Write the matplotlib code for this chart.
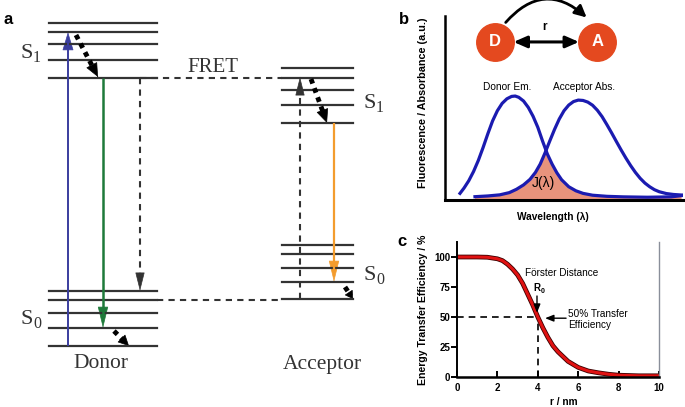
import numpy as np
import matplotlib
matplotlib.use('Agg')
import matplotlib.pyplot as plt
from matplotlib.patches import FancyArrowPatch

# --- panel a: Jablonski levels (rows in the schematic, top = 0) ---
donor_s1 = [23, 32, 44, 60, 78]
donor_s0 = [291, 300, 313, 328, 346]
acceptor_s1 = [68, 78, 90, 105, 123]
acceptor_s0 = [245, 254, 268, 282, 299]
donor_span = (49, 157)
acceptor_span = (282, 353)

# --- panel b: spectra (wavelength, intensity, a.u.) ---
donor_x = [6.3, 8, 10, 12, 14, 16, 18, 20, 22, 24, 26, 28, 29.5, 31, 33,
           35, 37, 39, 41, 43, 45, 47, 49, 52, 55, 58, 62, 68, 75, 85, 95,
           99.4]
donor_y = [3.6, 6.5, 10.5, 15.5, 21.5, 28.5, 36, 43, 48.5, 52.5, 55, 56.3,
           56.5, 55.8, 53.8, 50.3, 45.5, 39.5, 32, 25, 19.5, 14.8, 11, 7.2,
           5, 3.6, 2.6, 2, 1.7, 1.5, 1.7, 2.4]
acc_x = [12.6, 18, 23, 27, 30, 33, 35.7, 38, 40, 42, 44, 46, 48, 50, 52,
         54, 56, 58, 60, 62, 64, 66, 68, 70, 72, 74, 76, 78, 80, 82, 84, 86,
         88, 90, 93, 96, 99.4]
acc_y = [1.8, 2.2, 2.8, 4, 5.8, 8.2, 11.2, 15, 19.5, 25.5, 32, 38.3, 44,
         48.5, 51.6, 53.5, 54.3, 54.1, 53.2, 51.5, 48.8, 45.3, 41, 36.5,
         31.8, 27.2, 22.8, 18.7, 15, 11.8, 9.2, 7.2, 5.6, 4.5, 3.5, 3, 2.7]
cross_x, cross_y = 42.4, 27.0

# --- panel c: transfer efficiency vs distance ---
r_nm = [0, 0.5, 1, 1.5, 2, 2.25, 2.5, 2.75, 3, 3.25, 3.5, 3.75, 4, 4.25,
        4.5, 4.75, 5, 5.5, 6, 6.5, 7, 7.5, 8, 9, 10]
eff = [100, 100, 100, 99.8, 98.5, 97, 94, 90, 85, 78, 69, 60, 50, 41,
       33, 26, 21, 13, 8, 5, 3.5, 2.3, 1.5, 1, 1]
r0 = 4
xticks_c = [0, 2, 4, 6, 8, 10]
yticks_c = [0, 25, 50, 75, 100]

SANS = 'Liberation Sans'
SERIF = 'Liberation Serif'
GREY = '#333333'

fig = plt.figure(figsize=(6.85, 4.07), dpi=100)

# ---------------- panel a ----------------
ax = fig.add_axes([0, 0, 1, 1])
ax.set_xlim(0, 685)
ax.set_ylim(407, 0)
ax.axis('off')

for y in donor_s1 + donor_s0:
    ax.plot(donor_span, [y, y], color=GREY, lw=1.6)
for y in acceptor_s1 + acceptor_s0:
    ax.plot(acceptor_span, [y, y], color=GREY, lw=1.6)


def arrow(tail, tip, color, lw, ls='-', hl=10, hw=3.5):
    tail = np.array(tail, float)
    tip = np.array(tip, float)
    u = (tip - tail) / np.hypot(*(tip - tail))
    end = tip - u * hl * 100 / 72 * 0.6
    ax.plot([tail[0], end[0]], [tail[1], end[1]], color=color, lw=lw,
            linestyle=ls, solid_capstyle='butt', dash_capstyle='butt')
    ax.add_patch(FancyArrowPatch(tuple(tip - u * 0.5), tuple(tip),
                                 arrowstyle=f'-|>,head_length={hl},head_width={hw}',
                                 mutation_scale=1, color=color, lw=0.5,
                                 shrinkA=0, shrinkB=0))


dots = (0, (1, 1))
dash = (0, (3, 2.5))

# donor
arrow((68, donor_s0[-1]), (68, donor_s1[1]), '#3A3D9E', 1.4, hl=12, hw=3.6)
arrow((76, 35), (98, donor_s1[-1] - 1), 'black', 3.5, dots, hl=9, hw=4)
arrow((103, donor_s1[-1]), (103, donor_s0[3]), '#1E7A3A', 1.8, hl=14, hw=3.4)
arrow((140, donor_s1[-1]), (140, donor_s0[0]), GREY, 1.5, dash, hl=12, hw=3)
arrow((114, 331), (129, donor_s0[-1]), 'black', 3.5, dots, hl=7, hw=3.5)
ax.plot([140, acceptor_span[0]], [donor_s1[-1], donor_s1[-1]], color=GREY,
        lw=1.5, linestyle=dash)
ax.plot([donor_span[1], acceptor_span[0]], [donor_s0[1], donor_s0[1]],
        color=GREY, lw=1.5, linestyle=dash)

# acceptor
arrow((300, acceptor_s0[-1]), (300, acceptor_s1[1] - 1), GREY, 1.5, dash,
      hl=12, hw=3)
arrow((311, 79), (327, acceptor_s1[-1]), 'black', 3.5, dots, hl=9, hw=4)
arrow((334, acceptor_s1[-1]), (334, acceptor_s0[3]), '#F39C2E', 1.6,
      hl=14, hw=3.4)
arrow((345, 287), (353, acceptor_s0[-1]), 'black', 3.5, dots, hl=5, hw=3)


def level_label(x, y, sub):
    ax.text(x, y, 'S', family=SERIF, fontsize=16, color=GREY,
            ha='left', va='center')
    ax.text(x + 12, y + 4.5, sub, family=SERIF, fontsize=11.5, color=GREY,
            ha='left', va='center')


level_label(21, 53, '1')
level_label(21, 320, '0')
level_label(364, 103, '1')
level_label(364, 275, '0')
ax.text(213, 67, 'FRET', family=SERIF, fontsize=15, color=GREY,
        ha='center', va='center')
ax.text(101, 364, 'Donor', family=SERIF, fontsize=15.5, color=GREY,
        ha='center', va='center')
ax.text(322, 364, 'Acceptor', family=SERIF, fontsize=15.5, color=GREY,
        ha='center', va='center')

for lab, (x, y) in {'a': (8, 19), 'b': (404, 19), 'c': (402, 241)}.items():
    ax.text(x, y, lab, family=SANS, fontsize=12, fontweight='bold',
            ha='center', va='center')

# ---------------- panel b ----------------
axb = fig.add_axes([445 / 685, 1 - 200 / 407, 238 / 685, 184 / 407])
axb.set_xlim(0, 100)
axb.set_ylim(0, 100)
axb.patch.set_alpha(0)
for s in ['top', 'right']:
    axb.spines[s].set_visible(False)
axb.spines['left'].set_linewidth(1.8)
axb.spines['bottom'].set_linewidth(2.2)
axb.set_xticks([])
axb.set_yticks([])

left = [(x, y) for x, y in zip(acc_x, acc_y) if x < cross_x]
right = [(x, y) for x, y in zip(donor_x, donor_y) if x > cross_x]
poly = left + [(cross_x, cross_y)] + right
poly_x = [p[0] for p in poly]
poly_y = [p[1] for p in poly]
axb.fill(poly_x + [poly_x[-1], poly_x[0]], poly_y + [0, 0],
         color='#E8937C', lw=0)
axb.plot(donor_x, donor_y, color='#1B1BB0', lw=2.3, solid_joinstyle='round')
axb.plot(acc_x, acc_y, color='#1B1BB0', lw=2.3, solid_joinstyle='round')

axb.text(41.5, 9.5, 'J(λ)', family=SANS, fontsize=10, ha='center', va='center')
axb.text(26, 61.5, 'Donor Em.', family=SANS, fontsize=7.3, ha='center',
         va='center')
axb.text(58.5, 61.5, 'Acceptor Abs.', family=SANS, fontsize=7.3,
         ha='center', va='center')
axb.set_ylabel('Fluorescence / Absorbance (a.u.)', family=SANS, fontsize=7.8,
               fontweight='bold')
axb.yaxis.set_label_coords(-0.07, 0.53)
axb.set_xlabel('Wavelength (λ)', family=SANS, fontsize=7.3, fontweight='bold')
axb.xaxis.set_label_coords(0.455, -0.065)

circ_y = 85.9
for cx, name in [(21, 'D'), (63.9, 'A')]:
    axb.plot(cx, circ_y, 'o', ms=27, color='#E4491F', mec='#E4491F',
             clip_on=False)
    axb.text(cx, circ_y, name, family=SANS, fontsize=12, fontweight='bold',
             color='white', ha='center', va='center')
axb.add_patch(FancyArrowPatch((28.8, circ_y), (56.3, circ_y),
                              arrowstyle='<|-|>,head_length=8,head_width=3.5',
                              mutation_scale=1, color='black', lw=2.2,
                              shrinkA=0, shrinkB=0, clip_on=False))
axb.text(42, 94, 'r', family=SANS, fontsize=8.5, fontweight='bold',
         ha='center', va='center')
axb.add_patch(FancyArrowPatch((25.5, 96.5), (59.5, 99.2),
                              connectionstyle='arc3,rad=-0.5',
                              arrowstyle='-|>,head_length=7,head_width=3.5',
                              mutation_scale=1, color='black', lw=2,
                              shrinkA=0, shrinkB=0, clip_on=False))

# ---------------- panel c ----------------
axc = fig.add_axes([457 / 685, 1 - 377 / 407, 202 / 685, 135 / 407])
axc.set_xlim(0, 10)
axc.set_ylim(0, 112.5)
axc.patch.set_alpha(0)
axc.spines['top'].set_visible(False)
axc.spines['right'].set_color('#8a8f9a')
axc.spines['right'].set_linewidth(1)
axc.spines['left'].set_linewidth(1.4)
axc.spines['bottom'].set_linewidth(1.8)
axc.set_xticks(xticks_c)
axc.set_yticks(yticks_c)
axc.tick_params(axis='x', direction='in', length=4, width=1.4, pad=4)
axc.tick_params(axis='y', direction='out', length=4, width=1.4, pad=1)
for t in axc.get_xticklabels() + axc.get_yticklabels():
    t.set_family(SANS)
    t.set_fontsize(7)
    t.set_fontweight('bold')

axc.plot([0, r0], [50, 50], color='black', lw=1.2, linestyle=(0, (4, 3)))
axc.plot([r0, r0], [0, 50], color='black', lw=1.2, linestyle=(0, (4, 3)))
axc.plot(r_nm, eff, color='#3a0000', lw=3.4, solid_joinstyle='round')
axc.plot(r_nm, eff, color='#E01212', lw=2.2, solid_joinstyle='round')

axc.text(3.37, 86.5, 'Förster Distance', family=SANS, fontsize=7.2,
         ha='left', va='center')
axc.text(3.96, 74, 'R', family=SANS, fontsize=7, fontweight='bold',
         ha='center', va='center')
axc.text(4.22, 71.5, '0', family=SANS, fontsize=5, fontweight='bold',
         ha='center', va='center')
axc.annotate('', xy=(3.96, 53.5), xytext=(3.96, 67.5),
             arrowprops=dict(arrowstyle='-|>,head_length=0.5,head_width=0.2',
                             color='black', lw=1, shrinkA=0, shrinkB=0))
axc.annotate('', xy=(4.36, 49), xytext=(5.4, 49),
             arrowprops=dict(arrowstyle='-|>,head_length=0.5,head_width=0.2',
                             color='black', lw=1, shrinkA=0, shrinkB=0))
axc.text(5.5, 48, '50% Transfer\nEfficiency', family=SANS, fontsize=7.2,
         ha='left', va='center', linespacing=1.1)

axc.set_ylabel('Energy Transfer Efficiency / %', family=SANS, fontsize=7.6,
               fontweight='bold')
axc.yaxis.set_label_coords(-0.145, 0.5)
axc.set_xlabel('r / nm', family=SANS, fontsize=7.3, fontweight='bold')
axc.xaxis.set_label_coords(0.53, -0.15)

fig.savefig('out.png', dpi=100)
